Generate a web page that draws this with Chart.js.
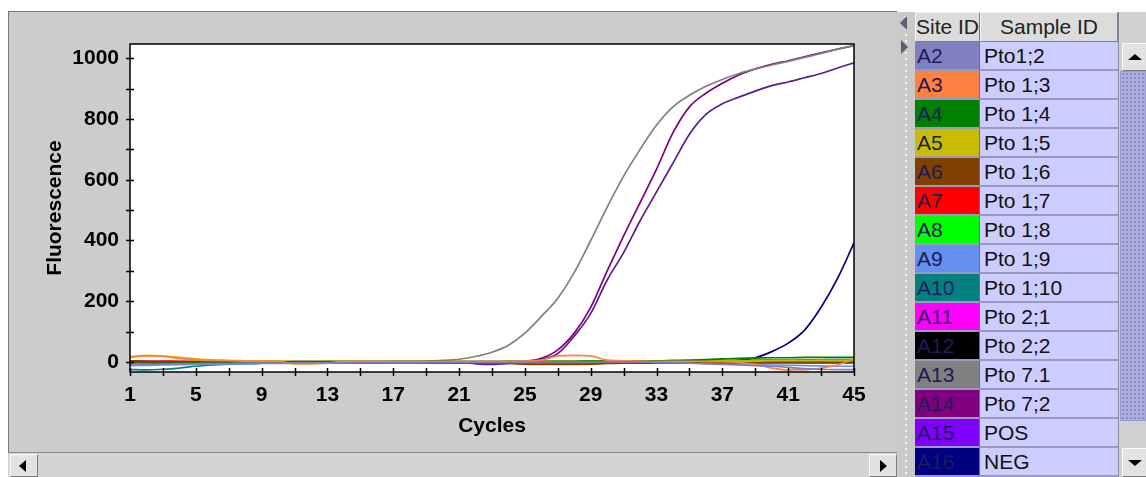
<!DOCTYPE html>
<html>
<head>
<meta charset="utf-8">
<script src="https://cdn.jsdelivr.net/npm/chart.js@4.4.1/dist/chart.umd.min.js"></script>
<style>
  body { margin: 0; width: 1146px; height: 477px; background: #fff; overflow: hidden; position: relative;
         font-family: "Liberation Sans", Arial, sans-serif; }
  #panel { position: absolute; left: 8px; top: 11px; width: 888px; height: 440px; background: #cccccc;
           border-top: 1px solid #777; border-left: 1px solid #777; }
  #chart { position: absolute; left: 9px; top: 12px; }
  #hscroll { position: absolute; left: 8px; top: 452px; width: 889px; height: 25px; background: #d4d4d4;
             border-top: 1px solid #8a8a8a; box-sizing: border-box; }
  .btn { position: absolute; background: #e2e2e2; box-sizing: border-box;
         border: 1px solid; border-color: #fafafa #7c7c7c #7c7c7c #fafafa; }
  .tri { position: absolute; width: 0; height: 0; }
  #divider { position: absolute; left: 897px; top: 12px; width: 18px; height: 465px; background-color: #c9c9c9;
             background-image: radial-gradient(circle, #f4f4f4 1px, transparent 1.3px);
             background-size: 6px 6px; background-position: 6px 2px; background-repeat: repeat-y; }
  #table { position: absolute; left: 915px; top: 12px; width: 203px; }
  .row { display: flex; height: 29px; box-sizing: border-box; font-size: 21px; }
  .head { height: 30px; }
  .cell { box-sizing: border-box; line-height: 27px; white-space: nowrap; overflow: hidden; }
  .site { width: 65px; padding-left: 2px; color: #1c1c58; border-right: 1px solid #6c6c8a; border-bottom: 2px solid #9a9abf; }
  .sample { width: 138px; padding-left: 4px; color: #111; background: #ccccff; border-bottom: 2px solid #9a9abf; }
  .head .cell { background: #dcdcdc; color: #222; text-align: center; padding: 0; line-height: 28px;
                border-top: 1px solid #f4f4f4; border-left: 1px solid #f4f4f4; border-right: 1px solid #7c7c7c; border-bottom: 1px solid #7c7c7c; }
  #vscroll { position: absolute; left: 1118px; top: 12px; width: 28px; height: 465px; background: #d0d0d0;
             border-left: 1px solid #8a8a9a; box-sizing: border-box; }
  #thumb { position: absolute; left: 1px; top: 59px; width: 26px; height: 350px; background-color: #aeaee2;
           background-image: radial-gradient(circle, #8a8ac6 0.9px, transparent 1.2px); background-size: 4px 4px;
           border: 1px solid #9898cc; box-sizing: border-box; }
</style>
</head>
<body>
<div id="panel"></div>
<canvas id="chart" width="888" height="440"></canvas>
<div id="hscroll">
  <div class="btn" style="left:2px; top:1px; width:28px; height:23px;">
    <div class="tri" style="left:8px; top:5px; border-top:6px solid transparent; border-bottom:6px solid transparent; border-right:7px solid #000;"></div>
  </div>
  <div class="btn" style="left:861px; top:1px; width:28px; height:23px;">
    <div class="tri" style="left:10px; top:5px; border-top:6px solid transparent; border-bottom:6px solid transparent; border-left:7px solid #000;"></div>
  </div>
</div>
<div id="divider">
  <div class="tri" style="left:3px; top:4px; border-top:7px solid transparent; border-bottom:7px solid transparent; border-right:7px solid #5c5c74;"></div>
  <div class="tri" style="left:4px; top:28px; border-top:7px solid transparent; border-bottom:7px solid transparent; border-left:7px solid #5c5c74;"></div>
</div>
<div id="table"></div>
<div id="vscroll">
  <div class="btn" style="left:3px; top:31px; width:25px; height:28px;">
    <div class="tri" style="left:5px; top:10px; border-left:7px solid transparent; border-right:7px solid transparent; border-bottom:6px solid #000;"></div>
  </div>
  <div id="thumb"></div>
  <div class="btn" style="left:3px; top:436px; width:25px; height:29px;">
    <div class="tri" style="left:5px; top:11px; border-left:7px solid transparent; border-right:7px solid transparent; border-top:6px solid #000;"></div>
  </div>
</div>
<script>
// amplification data, fluorescence per cycle
const cycles = [1,2,3,4,5,6,7,8,9,10,11,12,13,14,15,16,17,18,19,20,21,22,23,24,25,26,27,28,29,30,
                31,32,33,34,35,36,37,38,39,40,41,42,43,44,45];

const fluoA2  = [-8,-8,-7,-6,-6,-5,-5,-4,-4,-4, -3,-3,-3,-3,-2,-2,-2,-2,-2,-1, -1,-1,-1,-1,-1,0,0,0,0,0,
                 0,0,-1,-2,-4,-6,-8,-10,-12,-14, -18,-22,-24,-25,-25];
const fluoA3  = [14,20,18,12,7,5,4,3,2,2, -6,-6,-4,2,2,2,1,1,1,1, 1,1,2,2,3,6,20,22,20,6,
                 4,3,2,2,2,1,1,-2,-8,-20, -26,-26,-20,-10,10];
const fluoA4  = [2,1,0,0,0,0,0,0,0,0, 1,1,1,1,1,1,1,1,1,1, 1,1,1,2,2,2,2,2,3,3,
                 3,4,4,5,6,8,10,12,13,14, 14,15,15,15,15];
const fluoA5  = [18,22,20,15,10,7,5,4,3,3, 2,2,2,2,2,1,1,1,1,1, 1,1,1,1,1,1,2,2,2,2,
                 2,2,2,2,3,3,3,3,3,4, 4,4,4,4,5];
const fluoA6  = [0,-1,-2,-2,-2,-2,-2,-2,-2,-2, -2,-2,-2,-2,-2,-2,-2,-2,-3,-3, -3,-3,-4,-5,-7,-8,-8,-8,-7,-5,
                 -4,-4,-3,-3,-3,-3,-3,-3,-3,-3, -3,-3,-3,-3,-3];
const fluoA7  = [4,3,3,2,2,2,2,2,2,2, 1,1,1,1,1,1,1,1,1,1, 1,1,1,1,1,1,1,1,1,1,
                 1,1,1,1,1,1,1,1,2,2, 2,2,2,2,3];
const fluoA8  = [-3,-3,-2,-2,-2,-2,-1,-1,-1,-1, -1,-1,-1,0,0,0,0,0,0,0, 0,0,0,0,0,0,0,0,1,1,
                 1,1,1,2,2,2,3,3,4,4, 5,5,6,6,7];
const fluoA9  = [-12,-11,-10,-9,-8,-7,-6,-6,-5,-5, -4,-4,-4,-3,-3,-3,-3,-3,-2,-2, -2,-2,-2,-2,-2,-2,-2,-1,-1,-1,
                 -1,-1,-2,-3,-4,-5,-6,-8,-9,-10, -11,-12,-13,-14,-14];
const fluoA10 = [-25,-26,-24,-20,-14,-10,-7,-5,-4,-3, -3,-2,-2,-1,-1,-1,-1,-1,-1,-1, -1,-1,-1,-1,-1,-1,-1,-1,-1,-1,
                 0,0,1,2,3,4,5,5,6,6, 6,7,7,8,8];
const fluoA11 = [2,2,1,1,1,1,1,1,1,1, 0,0,0,0,0,0,0,0,0,0, 0,0,0,0,0,0,0,0,0,0,
                 0,0,0,0,0,0,0,-1,-1,-1, -1,-2,-2,-2,-2];
const fluoA12 = [-2,-2,-2,-2,-1,-1,-1,-1,-1,-1, -1,-1,-1,-1,-1,-1,-1,-1,-1,-1, -1,-1,-1,-1,-1,-1,-1,-1,-1,-1,
                 0,0,0,0,0,0,0,0,0,0, 0,0,0,0,0];
const fluoA13 = [-2,-2,-1,-1,-1,-1,0,0,0,0, 0,0,1,1,1,1,2,2,3,5, 9,18,32,55,95,150,210,295,400,510,
                 612,700,780,840,878,908,930,950,965,978, 990,1003,1016,1030,1042];
const fluoA14 = [-6,-6,-5,-5,-4,-4,-3,-3,-3,-3, -2,-2,-2,-2,-2,-2,-1,-1,-1,-1, -1,-2,-4,-3,2,12,40,95,180,300,
                 415,525,635,755,840,885,918,945,965,980, 992,1005,1018,1030,1042];
const fluoA15 = [-8,-8,-7,-7,-6,-6,-5,-5,-4,-4, -4,-3,-3,-3,-3,-3,-2,-2,-2,-2, -2,-6,-8,-5,0,8,28,85,160,270,
                 360,465,560,655,750,815,850,872,892,910, 922,936,950,968,985];
const fluoA16 = [-5,-5,-5,-4,-4,-4,-4,-3,-3,-3, -3,-3,-3,-3,-3,-3,-3,-3,-3,-3, -3,-3,-3,-3,-3,-2,-2,-2,-2,-2,
                 -2,-2,-1,-1,0,1,2,5,14,34, 62,105,180,275,392];

const siteIds   = ['A2','A3','A4','A5','A6','A7','A8','A9','A10','A11','A12','A13','A14','A15','A16'];
const sampleIds = ['Pto1;2','Pto 1;3','Pto 1;4','Pto 1;5','Pto 1;6','Pto 1;7','Pto 1;8','Pto 1;9','Pto 1;10',
                   'Pto 2;1','Pto 2;2','Pto 7.1','Pto 7;2','POS','NEG'];
const seriesValues = [fluoA2, fluoA3, fluoA4, fluoA5, fluoA6, fluoA7, fluoA8, fluoA9, fluoA10,
                      fluoA11, fluoA12, fluoA13, fluoA14, fluoA15, fluoA16];

const xTickLabels = [1,5,9,13,17,21,25,29,33,37,41,45];
const yTickLabels = [0,200,400,600,800,1000];

const siteColors = ['#8080c0','#ff8040','#008000','#c8bc00','#804000','#ff0000','#00ff00','#6490f0',
                    '#008080','#ff00ff','#000000','#808080','#800080','#8000ff','#000080'];
// plotted lines look a bit darker than the swatches for the purple ones
const lineColors = siteColors.map((c, i) => siteIds[i] === 'A15' ? '#5c1c96' : c);

// side table
const table = document.getElementById('table');
let html = '<div class="row head"><div class="cell site">Site ID</div><div class="cell sample">Sample ID</div></div>';
siteIds.forEach((id, i) => {
  html += '<div class="row"><div class="cell site" style="background:' + siteColors[i] + '">' + id +
          '</div><div class="cell sample">' + sampleIds[i] + '</div></div>';
});
table.innerHTML = html;

const fontFamily = '"Liberation Sans", Arial, sans-serif';

const framePlugin = {
  id: 'frame',
  beforeDraw(chart) {
    const {ctx, chartArea: a} = chart;
    ctx.save();
    ctx.fillStyle = '#ffffff';
    ctx.fillRect(a.left, a.top, a.right - a.left, a.bottom - a.top);
    ctx.restore();
  },
  afterDraw(chart) {
    const {ctx, chartArea: a, scales: {x, y}} = chart;
    ctx.save();
    ctx.strokeStyle = '#000';
    ctx.lineWidth = 1.5;
    ctx.strokeRect(a.left, a.top, a.right - a.left, a.bottom - a.top);
    ctx.beginPath();
    y.ticks.forEach(t => {
      const py = Math.round(y.getPixelForValue(t.value)) + 0.5;
      ctx.moveTo(a.left - 4, py); ctx.lineTo(a.left + 4, py);
    });
    x.ticks.forEach(t => {
      const px = Math.round(x.getPixelForValue(t.value)) + 0.5;
      ctx.moveTo(px, a.bottom - 4); ctx.lineTo(px, a.bottom + 4);
    });
    ctx.stroke();
    ctx.restore();
  }
};

new Chart(document.getElementById('chart'), {
  type: 'line',
  data: {
    datasets: seriesValues.map((vals, i) => ({
      label: siteIds[i],
      data: vals.map((v, k) => ({x: cycles[k], y: v})),
      borderColor: lineColors[i],
      borderWidth: 1.7,
      pointRadius: 0,
      cubicInterpolationMode: 'monotone',
      fill: false
    }))
  },
  options: {
    responsive: false,
    animation: false,
    devicePixelRatio: 1,
    layout: {padding: {left: 0, top: 32, right: 43, bottom: 0}},
    plugins: {legend: {display: false}, tooltip: {enabled: false}},
    scales: {
      x: {
        type: 'linear', min: 1, max: 45,
        grid: {display: false, drawTicks: false},
        border: {display: false},
        ticks: {
          stepSize: 2, autoSkip: false, maxRotation: 0, padding: 11, color: '#000',
          font: {family: fontFamily, size: 21, weight: 'bold'},
          callback: v => xTickLabels.includes(v) ? String(v) : ''
        },
        title: {display: true, text: 'Cycles', color: '#000',
                font: {family: fontFamily, size: 21, weight: 'bold'}, padding: {top: 0, bottom: 13}},
        afterFit: s => { s.height = 80; }
      },
      y: {
        min: -33, max: 1047,
        grid: {display: false, drawTicks: false},
        border: {display: false},
        ticks: {
          stepSize: 100, includeBounds: false, autoSkip: false, padding: 11, color: '#000',
          font: {family: fontFamily, size: 21, weight: 'bold'},
          callback: v => yTickLabels.includes(v) ? String(v) : ''
        },
        title: {display: true, text: 'Fluorescence', color: '#000',
                font: {family: fontFamily, size: 21, weight: 'bold'}, padding: {top: 34, bottom: 0}},
        afterFit: s => { s.width = 121; }
      }
    }
  },
  plugins: [framePlugin]
});
</script>
</body>
</html>
